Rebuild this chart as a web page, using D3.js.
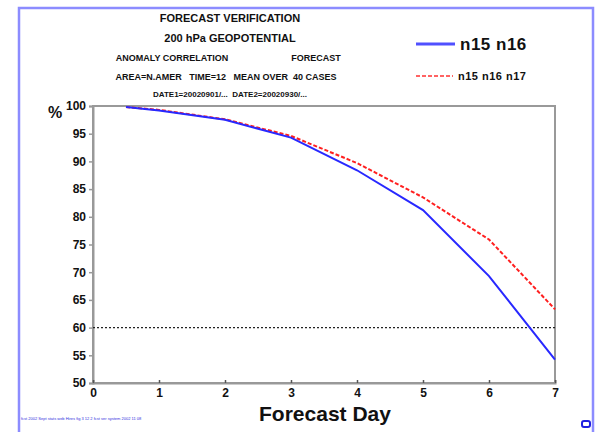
<!DOCTYPE html>
<html lang="en">
<head>
<meta charset="UTF-8">
<title>Forecast Verification</title>
<script src="https://d3js.org/d3.v7.min.js"></script>
<style>
    body { margin: 0; background: #fff; }
    text { font-family: "Liberation Sans", Arial, sans-serif; font-weight: bold; fill: #111; white-space: pre; }
</style>
</head>
<body>
<svg width="600" height="432"></svg>
<script>
    // data
    const days = [0.5, 1, 2, 3, 4, 5, 6, 7];
    const n15n16 = [99.8, 99.2, 97.5, 94.3, 88.4, 81.2, 69.3, 54.2];
    const n15n16n17 = [99.8, 99.3, 97.6, 94.6, 89.7, 83.5, 75.9, 63.3];
    const xTicks = [0, 1, 2, 3, 4, 5, 6, 7];
    const yTicks = [50, 55, 60, 65, 70, 75, 80, 85, 90, 95, 100];
    const refLevel = 60;

    const svg = d3.select("svg");

    // outer blue frame (open at bottom)
    svg.append("path")
        .attr("d", "M19,432 V8 H593 V432")
        .attr("fill", "none")
        .attr("stroke", "#8c8cff")
        .attr("stroke-width", 2.5);

    const pLeft = 93, pRight = 555, pTop = 106, pBottom = 383;
    const x = d3.scaleLinear().domain([0, 7]).range([pLeft, pRight]);
    const y = d3.scaleLinear().domain([50, 100]).range([pBottom, pTop]);

    // plot box
    svg.append("rect")
        .attr("x", pLeft).attr("y", pTop)
        .attr("width", pRight - pLeft).attr("height", pBottom - pTop)
        .attr("fill", "none").attr("stroke", "#999").attr("stroke-width", 2);

    // y axis
    const yAxis = svg.append("g")
        .attr("transform", `translate(${pLeft},0)`)
        .call(d3.axisLeft(y).tickValues(yTicks).tickFormat(d3.format("d")).tickSize(4).tickPadding(3));
    yAxis.select(".domain").attr("stroke", "#999").attr("stroke-width", 2);
    yAxis.selectAll(".tick line").attr("stroke", "#999").attr("stroke-width", 1.5);
    yAxis.selectAll("text").style("font-size", "12px").attr("fill", "#111");

    // x axis
    const xAxis = svg.append("g")
        .attr("transform", `translate(0,${pBottom})`)
        .call(d3.axisBottom(x).tickValues(xTicks).tickFormat(d3.format("d")).tickSize(-3).tickPadding(5));
    xAxis.select(".domain").attr("stroke", "#999").attr("stroke-width", 2);
    xAxis.selectAll(".tick line").attr("stroke", "#555").attr("stroke-width", 1.5);
    xAxis.selectAll("text").style("font-size", "12px").attr("fill", "#111");

    // reference line
    svg.append("line")
        .attr("x1", pLeft).attr("x2", pRight)
        .attr("y1", y(refLevel)).attr("y2", y(refLevel))
        .attr("stroke", "#222").attr("stroke-width", 1.3)
        .attr("stroke-dasharray", "2,2");

    const line = d3.line().x((d, i) => x(days[i])).y(d => y(d));

    svg.append("path").datum(n15n16n17)
        .attr("d", line).attr("fill", "none")
        .attr("stroke", "#ff2020").attr("stroke-width", 2)
        .attr("stroke-dasharray", "4,2");

    svg.append("path").datum(n15n16)
        .attr("d", line).attr("fill", "none")
        .attr("stroke", "#2828ff").attr("stroke-width", 2);

    // axis titles
    svg.append("text").attr("x", 48).attr("y", 118).style("font-size", "16px").text("%");
    svg.append("text").attr("x", 325).attr("y", 421)
        .attr("text-anchor", "middle").style("font-size", "21px").text("Forecast Day");

    // header block
    const hdr = svg.append("g");
    hdr.append("text").attr("x", 230).attr("y", 22).attr("text-anchor", "middle")
        .style("font-size", "11px").text("FORECAST VERIFICATION");
    hdr.append("text").attr("x", 230).attr("y", 42).attr("text-anchor", "middle")
        .style("font-size", "11px").text("200 hPa GEOPOTENTIAL");
    hdr.append("text").attr("x", 172).attr("y", 61).attr("text-anchor", "middle")
        .style("font-size", "9px").text("ANOMALY CORRELATION");
    hdr.append("text").attr("x", 316).attr("y", 61).attr("text-anchor", "middle")
        .style("font-size", "9px").text("FORECAST");
    hdr.append("text").attr("x", 226).attr("y", 80).attr("text-anchor", "middle")
        .style("font-size", "9px").text("AREA=N.AMER   TIME=12   MEAN OVER  40 CASES");
    hdr.append("text").attr("x", 230).attr("y", 97).attr("text-anchor", "middle")
        .style("font-size", "8px").text("DATE1=20020901/...  DATE2=20020930/...");

    // legend
    svg.append("line").attr("x1", 416).attr("x2", 455).attr("y1", 44).attr("y2", 44)
        .attr("stroke", "#5050ff").attr("stroke-width", 3);
    svg.append("text").attr("x", 460).attr("y", 50).style("font-size", "17px")
        .style("letter-spacing", "0.5px").text("n15 n16");
    svg.append("line").attr("x1", 416).attr("x2", 453).attr("y1", 76).attr("y2", 76)
        .attr("stroke", "#ff3030").attr("stroke-width", 1.5).attr("stroke-dasharray", "4,2");
    svg.append("text").attr("x", 458).attr("y", 80).style("font-size", "11px")
        .style("letter-spacing", "0.5px").text("n15 n16 n17");

    // footer bits
    svg.append("text").attr("x", 21).attr("y", 420)
        .style("font-size", "4px").style("fill", "#3030e0").style("font-weight", "normal")
        .text("fcst 2002 Sept stats web Hires fig 3 12 2 fcst ver system 2002 11 08");
    svg.append("rect").attr("x", 582).attr("y", 421).attr("width", 8).attr("height", 6)
        .attr("rx", 2).attr("fill", "none").attr("stroke", "#2020e0").attr("stroke-width", 2);
</script>
</body>
</html>
